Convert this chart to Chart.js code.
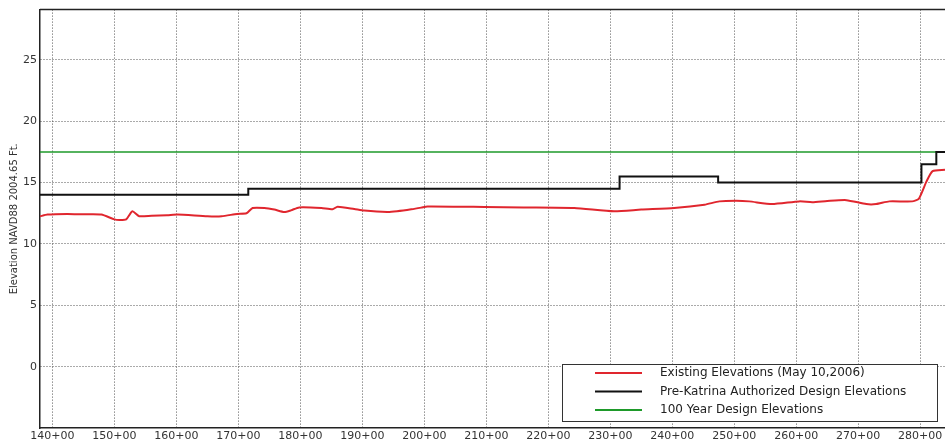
<!DOCTYPE html>
<html>
<head>
<meta charset="utf-8">
<script src="https://cdn.jsdelivr.net/npm/chart.js@4/dist/chart.umd.min.js"></script>
<style>
  html, body { margin: 0; padding: 0; background: #fff; overflow: hidden; }
</style>
</head>
<body>
<canvas id="levee-chart" width="945" height="444"></canvas>
<script>
// stations (x 100 ft) and elevations
let existingStations = [138, 139.2, 142.4, 145, 147.9, 150, 150.8, 151.9, 152.9, 154, 156, 158.5, 160.2, 165, 167.3, 169.8, 171.3, 172.3, 174.2, 175.8, 177.4, 178.5, 179.8, 183.4, 185.2, 186, 188.7, 190.3, 194, 195.6, 197.9, 199.5, 200.5, 209.7, 216, 224.2, 230.6, 235, 240.3, 245.2, 247.6, 250.3, 252.4, 256.1, 260.5, 262.6, 265, 268.1, 271.3, 272.9, 275, 278.7, 279.8, 281, 282, 284]
let existingElev = [12.25, 12.4, 12.45, 12.42, 12.4, 12.0, 11.95, 12.0, 12.66, 12.26, 12.3, 12.34, 12.4, 12.26, 12.26, 12.45, 12.5, 12.93, 12.93, 12.8, 12.6, 12.74, 12.98, 12.93, 12.82, 13.04, 12.85, 12.72, 12.6, 12.66, 12.82, 12.96, 13.06, 13.02, 12.98, 12.93, 12.66, 12.8, 12.93, 13.2, 13.47, 13.52, 13.47, 13.25, 13.47, 13.4, 13.5, 13.57, 13.25, 13.25, 13.47, 13.47, 13.7, 15.08, 15.94, 16.05]

let preKatrinaStations = [138, 171.6, 231.5, 247.4, 280.2, 282.6, 284]
let preKatrinaElev = [14, 14.5, 15.5, 15, 16.5, 17.5, 17.5]

let designStations = [138, 284]
let designElev = [17.5, 17.5]

let seriesLabels = ['Existing Elevations (May 10,2006)', 'Pre-Katrina Authorized Design Elevations', '100 Year Design Elevations']
let seriesColors = ['#e0262e', '#111111', '#1e9a2a']

let yTicks = [0, 5, 10, 15, 20, 25]

// zip two arrays into {x, y} points
function toPoints(xs, ys) {
    return xs.map((x, i) => ({x: x, y: ys[i]}))
}

// top border of the plot box, and legend box inside the plot
let framePlugin = {
    id: 'frame',
    afterDraw(chart) {
        let ctx = chart.ctx
        let area = chart.chartArea
        ctx.save()
        ctx.strokeStyle = '#222'
        ctx.lineWidth = 1.5
        ctx.beginPath()
        ctx.moveTo(area.left, area.top)
        ctx.lineTo(area.right, area.top)
        ctx.stroke()

        // legend
        let bx = 562, by = 364, bw = 375, bh = 57
        ctx.fillStyle = '#fff'
        ctx.fillRect(bx, by, bw, bh)
        ctx.strokeStyle = '#333'
        ctx.lineWidth = 1
        ctx.strokeRect(bx + 0.5, by + 0.5, bw, bh)
        ctx.font = '12px "DejaVu Sans"'
        ctx.textBaseline = 'middle'
        chart.data.datasets.forEach(function(ds, i) {
            let y = 373 + i * 18.5
            ctx.strokeStyle = ds.borderColor
            ctx.lineWidth = 2
            ctx.beginPath()
            ctx.moveTo(595, y)
            ctx.lineTo(642, y)
            ctx.stroke()
            ctx.fillStyle = '#222'
            ctx.fillText(ds.label, 660, y)
        })
        ctx.restore()
    }
}

let canvas = document.querySelector('#levee-chart')
let context = canvas.getContext('2d')

let chart = new Chart(context, {
    type: 'line',
    data: {
        datasets: [
            {label: seriesLabels[0], data: toPoints(existingStations, existingElev), borderColor: seriesColors[0], borderWidth: 2, pointRadius: 0, tension: 0.2},
            {label: seriesLabels[1], data: toPoints(preKatrinaStations, preKatrinaElev), borderColor: seriesColors[1], borderWidth: 2, pointRadius: 0, stepped: true},
            {label: seriesLabels[2], data: toPoints(designStations, designElev), borderColor: seriesColors[2], borderWidth: 1.5, pointRadius: 0}
        ]
    },
    options: {
        responsive: false,
        animation: false,
        layout: {padding: {top: 6, right: 0, left: 0, bottom: 0}},
        plugins: {legend: {display: false}, tooltip: {enabled: false}},
        scales: {
            x: {
                type: 'linear',
                min: 138,
                max: 284,
                afterFit(scale) { scale.height = 16 },
                ticks: {
                    stepSize: 10,
                    includeBounds: false,
                    maxRotation: 0,
                    padding: 2,
                    color: '#333',
                    font: {family: 'DejaVu Sans', size: 11},
                    callback: (v) => v + '+00'
                },
                grid: {color: '#555', drawTicks: false},
                border: {display: true, color: '#222', width: 1.5, dash: [1, 2]}
            },
            y: {
                min: -5,
                max: 29.1,
                afterFit(scale) { scale.width = 40 },
                afterBuildTicks(scale) {
                    scale.ticks = yTicks.map(v => ({value: v}))
                },
                ticks: {
                    padding: 3,
                    color: '#333',
                    font: {family: 'DejaVu Sans', size: 11}
                },
                title: {
                    display: true,
                    text: 'Elevation NAVD88 2004.65 Ft.',
                    color: '#333',
                    font: {family: 'DejaVu Sans', size: 10},
                    padding: {top: 8, bottom: 0}
                },
                grid: {color: '#555', drawTicks: false},
                border: {display: true, color: '#222', width: 1.5, dash: [1, 2]}
            }
        }
    },
    plugins: [framePlugin]
})
</script>
</body>
</html>
